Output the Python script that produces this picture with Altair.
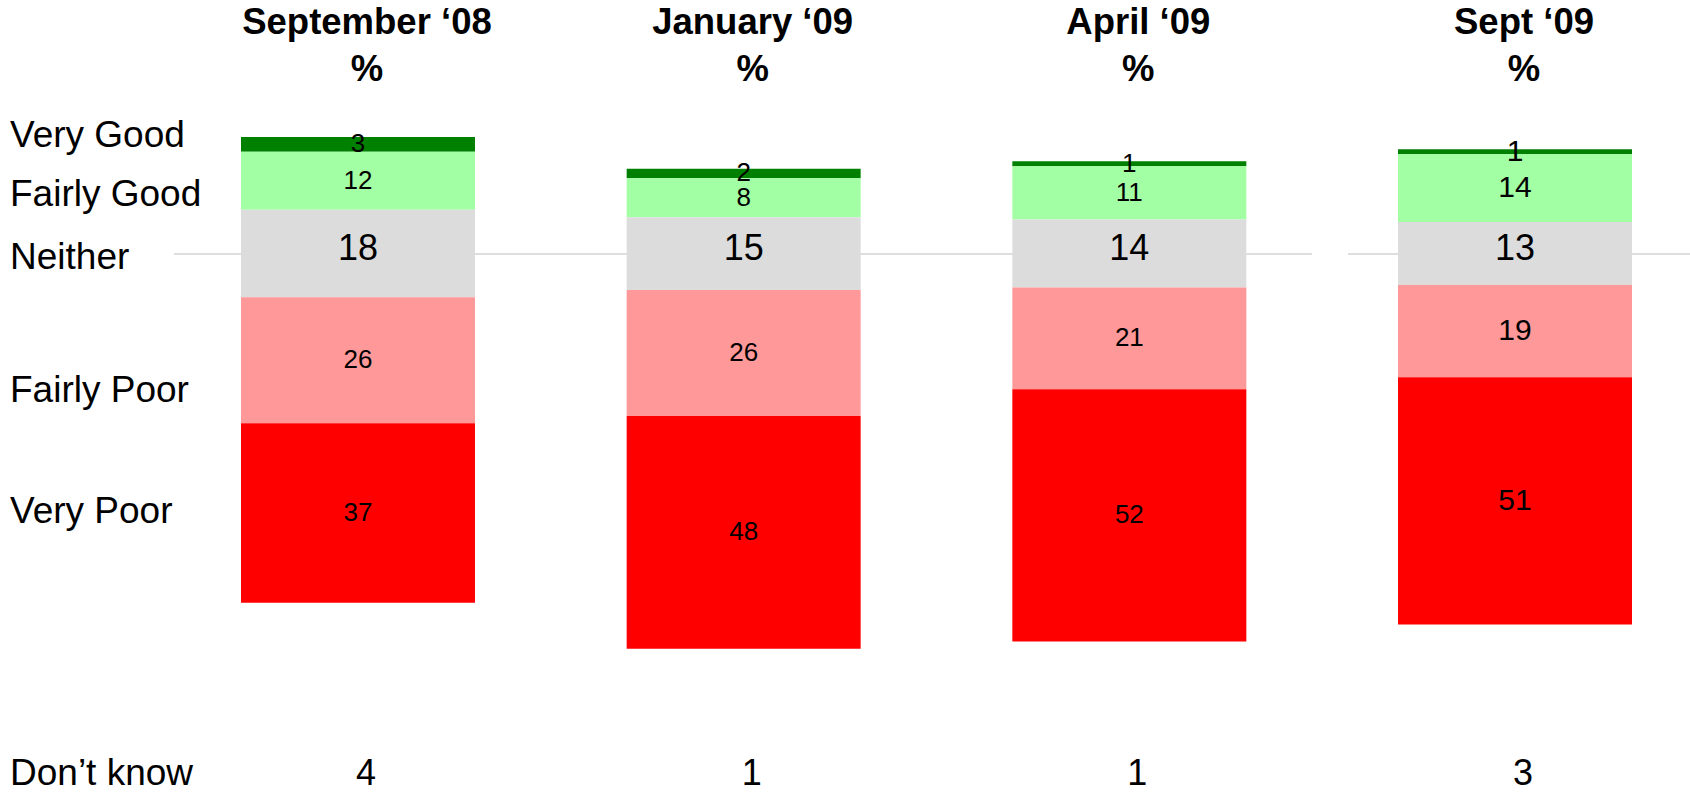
import altair as alt
import pandas as pd

# Survey waves and answer shares (%)
periods = ["September \u201808", "January \u201809", "April \u201809", "Sept \u201809"]
categories = ["Very Good", "Fairly Good", "Neither", "Fairly Poor", "Very Poor"]
very_good = [3, 2, 1, 1]
fairly_good = [12, 8, 11, 14]
neither = [18, 15, 14, 13]
fairly_poor = [26, 26, 21, 19]
very_poor = [37, 48, 52, 51]
dont_know = [4, 1, 1, 3]
row_labels = ["Very Good", "Fairly Good", "Neither", "Fairly Poor", "Very Poor", "Don\u2019t know"]

colors = ["#008000", "#a3ffa3", "#dcdcdc", "#ff9999", "#ff0000"]
FONT = "Liberation Sans"
W, H = 1690, 793

# Diverging stack: the "Neither" band is centred on zero, positives above, negatives below
rows = []
for i, p in enumerate(periods):
    half = neither[i] / 2
    segs = [
        ("Very Good", very_good[i], half + fairly_good[i], half + fairly_good[i] + very_good[i]),
        ("Fairly Good", fairly_good[i], half, half + fairly_good[i]),
        ("Neither", neither[i], -half, half),
        ("Fairly Poor", fairly_poor[i], -half - fairly_poor[i], -half),
        ("Very Poor", very_poor[i], -half - fairly_poor[i] - very_poor[i], -half - fairly_poor[i]),
    ]
    for cat, v, lo, hi in segs:
        rows.append({"period": p, "category": cat, "value": v,
                     "lo": lo, "hi": hi, "mid": (lo + hi) / 2})
seg = pd.DataFrame(rows)
waves = pd.DataFrame({"period": periods, "dk": dont_know})

px_per_unit = 4.85
zero_px = 253.5
y_scale = alt.Scale(domain=[-(H - zero_px) / px_per_unit, zero_px / px_per_unit],
                    nice=False, zero=False)
x_enc = alt.X("period:N", sort=periods, axis=None,
              scale=alt.Scale(domain=periods, range=[241, 1632],
                              paddingInner=0.3933, paddingOuter=0))

# Light reference line through the middle of the "Neither" band
rule_a = alt.Chart(waves).mark_rule(color="#dedede", strokeWidth=2).encode(
    x=alt.value(174), x2=alt.value(1312), y=alt.value(254))
rule_b = alt.Chart(waves).mark_rule(color="#dedede", strokeWidth=2).encode(
    x=alt.value(1348), x2=alt.value(W), y=alt.value(254))

bars = alt.Chart(seg).mark_bar().encode(
    x=x_enc,
    y=alt.Y("lo:Q", scale=y_scale, axis=None),
    y2="hi:Q",
    color=alt.Color("category:N", scale=alt.Scale(domain=categories, range=colors),
                    legend=None),
)

seg_labels = alt.Chart(seg).transform_filter(
    alt.datum.category != "Neither"
).mark_text(font=FONT, baseline="middle", color="black").encode(
    x=x_enc,
    y=alt.Y("mid:Q", scale=y_scale, axis=None),
    text="value:Q",
    size=alt.when(alt.datum.period == periods[3]).then(alt.value(30)).otherwise(alt.value(26)),
)

neither_labels = alt.Chart(seg).transform_filter(
    alt.datum.category == "Neither"
).mark_text(font=FONT, baseline="middle", fontSize=36, dy=-4.5, color="black").encode(
    x=x_enc,
    y=alt.Y("mid:Q", scale=y_scale, axis=None),
    text="value:Q",
)

titles = alt.Chart(waves).mark_text(
    font=FONT, fontWeight="bold", fontSize=36.5, baseline="alphabetic", dx=9, color="black"
).encode(x=x_enc, y=alt.value(34.3), text="period:N")

pct = alt.Chart(waves).mark_text(
    font=FONT, fontWeight="bold", fontSize=36.5, baseline="alphabetic", dx=9, color="black"
).encode(x=x_enc, y=alt.value(81), text=alt.value("%"))

dk_values = alt.Chart(waves).mark_text(
    font=FONT, fontSize=36, baseline="alphabetic", dx=8, color="black"
).encode(x=x_enc, y=alt.value(785), text="dk:Q")

# Row captions down the left edge
label_baselines = [146.7, 205.7, 269, 401.7, 523, 785]
captions = [
    alt.Chart(pd.DataFrame({"label": [name]})).mark_text(
        font=FONT, fontSize=37, align="left", baseline="alphabetic", color="black"
    ).encode(x=alt.value(10), y=alt.value(yb), text="label:N")
    for name, yb in zip(row_labels, label_baselines)
]

chart = alt.layer(
    rule_a, rule_b, bars, seg_labels, neither_labels, titles, pct, dk_values, *captions
).properties(
    width=W, height=H, padding=0, autosize="none", background="white"
).configure_view(stroke=None)

chart.save("out.html", embed_options={"renderer": "svg", "actions": False})
